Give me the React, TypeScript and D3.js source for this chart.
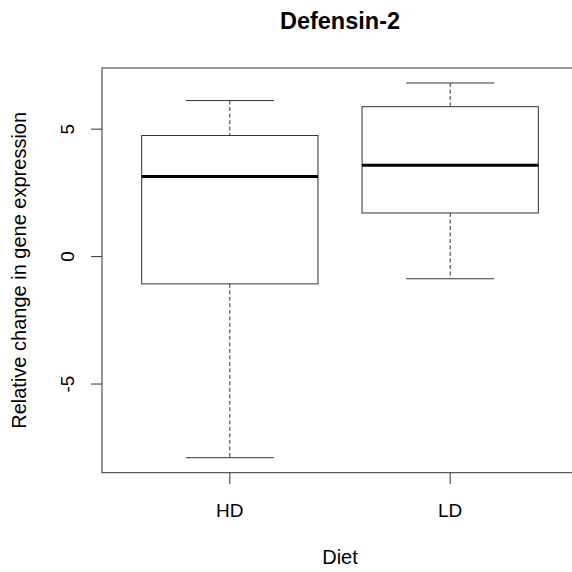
import React, { useEffect } from "react";
import * as d3 from "d3";

// box stats
const groups = ["HD", "LD"];
const lowerWhisker = [-7.89, -0.87];
const q1 = [-1.07, 1.71];
const medians = [3.14, 3.58];
const q3 = [4.75, 5.88];
const upperWhisker = [6.12, 6.81];
const yTicks = [-5, 0, 5];

const W = 572;
const H = 572;
const left = 102;
const top = 68;
const bottom = 472.7;
const right = 578;

const App = () => {
  useEffect(() => {
    document.body.style.margin = "0";
  }, []);

  // R style: pad range by 4%
  const lo = d3.min(lowerWhisker) as number;
  const hi = d3.max(upperWhisker) as number;
  const pad = (hi - lo) * 0.04;
  const y = d3.scaleLinear().domain([lo - pad, hi + pad]).range([bottom, top]);
  const xPad = 2 * 0.04;
  const x = d3
    .scaleLinear()
    .domain([0.5 - xPad, groups.length + 0.5 + xPad])
    .range([left, right]);

  const boxW = x(1.4) - x(1);
  const capW = boxW / 2;
  const font = "'Liberation Sans', Arial, sans-serif";
  const line = "#333";

  return (
    <svg width={W} height={H} style={{ display: "block", background: "#fff" }}>
      <text
        x={(left + right) / 2}
        y={29}
        textAnchor="middle"
        fontFamily={font}
        fontWeight="bold"
        fontSize={23.5}
      >
        Defensin-2
      </text>

      {groups.map((g, i) => {
        const cx = x(i + 1);
        return (
          <g key={g}>
            <line
              x1={cx}
              x2={cx}
              y1={y(upperWhisker[i])}
              y2={y(q3[i])}
              stroke={line}
              strokeDasharray="4 2.5"
            />
            <line
              x1={cx}
              x2={cx}
              y1={y(q1[i])}
              y2={y(lowerWhisker[i])}
              stroke={line}
              strokeDasharray="4 2.5"
            />
            <line
              x1={cx - capW}
              x2={cx + capW}
              y1={y(upperWhisker[i])}
              y2={y(upperWhisker[i])}
              stroke={line}
            />
            <line
              x1={cx - capW}
              x2={cx + capW}
              y1={y(lowerWhisker[i])}
              y2={y(lowerWhisker[i])}
              stroke={line}
            />
            <rect
              x={cx - boxW}
              y={y(q3[i])}
              width={boxW * 2}
              height={y(q1[i]) - y(q3[i])}
              fill="none"
              stroke={line}
            />
            <line
              x1={cx - boxW}
              x2={cx + boxW}
              y1={y(medians[i])}
              y2={y(medians[i])}
              stroke="#000"
              strokeWidth={3}
            />
            <line x1={cx} x2={cx} y1={bottom} y2={bottom + 11.5} stroke={line} />
            <text
              x={cx}
              y={516.5}
              textAnchor="middle"
              fontFamily={font}
              fontSize={19}
            >
              {g}
            </text>
          </g>
        );
      })}

      {yTicks.map((t) => (
        <g key={t}>
          <line x1={left - 11} x2={left} y1={y(t)} y2={y(t)} stroke={line} />
          <text
            transform={`translate(74,${y(t)}) rotate(-90)`}
            textAnchor="middle"
            fontFamily={font}
            fontSize={19}
          >
            {t < 0 ? "-" + Math.abs(t) : t}
          </text>
        </g>
      ))}

      <rect
        x={left}
        y={top}
        width={right - left}
        height={bottom - top}
        fill="none"
        stroke={line}
      />

      <text
        x={(left + right) / 2}
        y={564}
        textAnchor="middle"
        fontFamily={font}
        fontSize={20}
      >
        Diet
      </text>
      <text
        transform={`translate(26,${(top + bottom) / 2}) rotate(-90)`}
        textAnchor="middle"
        fontFamily={font}
        fontSize={20}
      >
        Relative change in gene expression
      </text>
    </svg>
  );
};

export default App;
